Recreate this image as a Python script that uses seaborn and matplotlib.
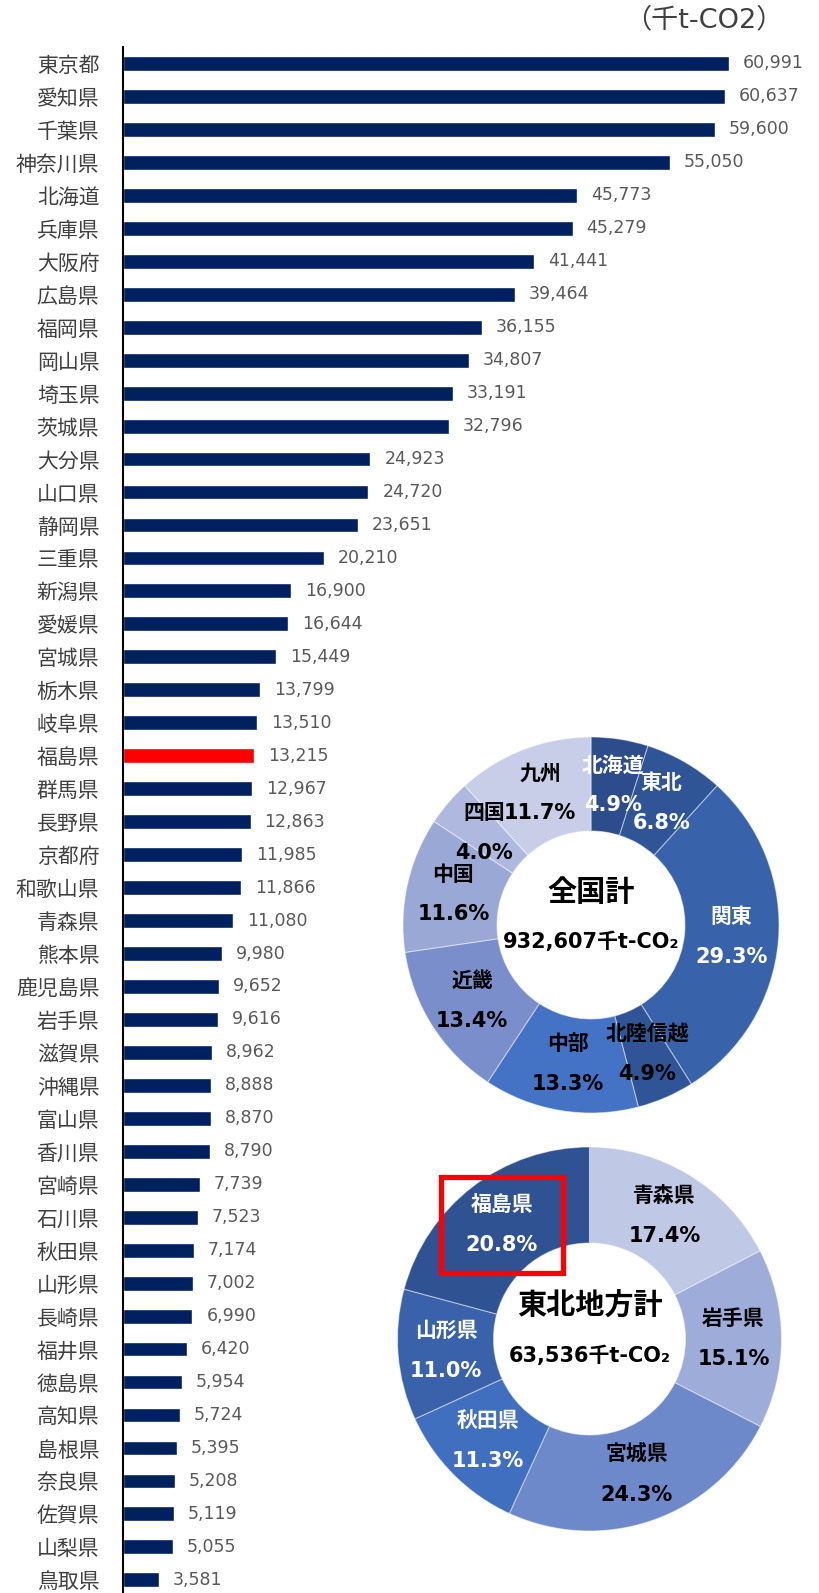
import numpy as np
import pandas as pd
import matplotlib
matplotlib.use("Agg")
import matplotlib.pyplot as plt
from matplotlib.patches import Rectangle
import seaborn as sns

# Prefectural CO2 emissions (thousand t-CO2)
prefectures = [
    "東京都", "愛知県", "千葉県", "神奈川県", "北海道", "兵庫県", "大阪府", "広島県",
    "福岡県", "岡山県", "埼玉県", "茨城県", "大分県", "山口県", "静岡県", "三重県",
    "新潟県", "愛媛県", "宮城県", "栃木県", "岐阜県", "福島県", "群馬県", "長野県",
    "京都府", "和歌山県", "青森県", "熊本県", "鹿児島県", "岩手県", "滋賀県", "沖縄県",
    "富山県", "香川県", "宮崎県", "石川県", "秋田県", "山形県", "長崎県", "福井県",
    "徳島県", "高知県", "島根県", "奈良県", "佐賀県", "山梨県", "鳥取県",
]
emissions = [
    60991, 60637, 59600, 55050, 45773, 45279, 41441, 39464,
    36155, 34807, 33191, 32796, 24923, 24720, 23651, 20210,
    16900, 16644, 15449, 13799, 13510, 13215, 12967, 12863,
    11985, 11866, 11080, 9980, 9652, 9616, 8962, 8888,
    8870, 8790, 7739, 7523, 7174, 7002, 6990, 6420,
    5954, 5724, 5395, 5208, 5119, 5055, 3581,
]
highlight = "福島県"

# National share by region
regions = ["北海道", "東北", "関東", "北陸信越", "中部", "近畿", "中国", "四国", "九州"]
region_share = [4.9, 6.8, 29.3, 4.9, 13.3, 13.4, 11.6, 4.0, 11.7]
region_colors = ["#2C4C8C", "#2F5597", "#3862A9", "#2F5597", "#4472C4",
                 "#7A8ECB", "#9AA8D6", "#AFB9DF", "#C8CEE8"]
region_text = ["white", "white", "white", "black", "black",
               "black", "black", "black", "black"]
national_title = "全国計"
national_total = "932,607千t-CO₂"

# Tohoku share by prefecture
tohoku = ["青森県", "岩手県", "宮城県", "秋田県", "山形県", "福島県"]
tohoku_share = [17.4, 15.1, 24.3, 11.3, 11.0, 20.8]
tohoku_colors = ["#BFC9E5", "#9DACD9", "#6E89CA", "#416FBF", "#3A62AB", "#2F5292"]
tohoku_text = ["black", "black", "black", "white", "white", "white"]
tohoku_title = "東北地方計"
tohoku_total = "63,536千t-CO₂"

unit_label = "（千t-CO2）"

sns.set_theme(style="white")
plt.rcParams["font.family"] = ["DejaVu Sans", "Noto Sans CJK JP"]

W, H, DPI = 819, 1593, 100
fig = plt.figure(figsize=(W / DPI, H / DPI), dpi=DPI)

# ---- horizontal bar chart ----
ax = fig.add_axes([123 / W, 0, 1 - 123 / W, (H - 47) / H])
df = pd.DataFrame({"pref": prefectures, "value": emissions})
palette = {p: ("#FF0000" if p == highlight else "#002060") for p in prefectures}
sns.barplot(data=df, x="value", y="pref", hue="pref", palette=palette,
            legend=False, orient="h", width=0.45, saturation=1, ax=ax)
for cont in ax.containers:
    ax.bar_label(cont, labels=[f"{v:,.0f}" for v in cont.datavalues],
                 padding=10, fontsize=12.5, color="#595959",
                 family=["DejaVu Sans"])
ax.set_xlim(0, 70100)
ax.set_ylim(46.4, -0.5)
ax.set_xlabel("")
ax.set_ylabel("")
ax.set_xticks([])
ax.tick_params(axis="y", length=0, pad=17)
for lbl in ax.get_yticklabels():
    lbl.set_fontfamily(["Noto Sans CJK JP"])
    lbl.set_fontsize(15)
    lbl.set_color("#404040")
for side in ["top", "right", "bottom"]:
    ax.spines[side].set_visible(False)
ax.spines["left"].set_color("black")
ax.spines["left"].set_linewidth(1.5)

fig.text(704 / W, 1 - 20 / H, unit_label, ha="center", va="center",
         fontsize=19.5, color="#404040",
         family=["DejaVu Sans", "Noto Sans CJK JP"])


def donut(cx, cy, R, labels, shares, colors, tcolors, title, total, box_label=None):
    dax = fig.add_axes([(cx - R) / W, (H - cy - R) / H, 2 * R / W, 2 * R / H])
    dax.pie(shares, colors=colors, startangle=90, counterclock=False,
            radius=1.0,
            wedgeprops=dict(width=0.5, edgecolor=(1, 1, 1, 0.45), linewidth=0.8))
    dax.set_xlim(-1, 1)
    dax.set_ylim(-1, 1)
    dax.set_aspect("equal")
    dax.axis("off")
    total_share = sum(shares)
    cum = 0.0
    for lab, s, tc in zip(labels, shares, tcolors):
        mid = (cum + s / 2) / total_share * 2 * np.pi
        cum += s
        r = 0.75
        x, y = r * np.sin(mid), r * np.cos(mid)
        dax.text(x, y + 0.105, lab, ha="center", va="center", fontsize=15,
                 fontweight="bold", color=tc)
        dax.text(x, y - 0.105, f"{s:.1f}%", ha="center", va="center",
                 fontsize=15, fontweight="bold", color=tc)
        if lab == box_label:
            dax.add_patch(Rectangle((x - 0.318, y - 0.25), 0.636, 0.5,
                                    fill=False, edgecolor="#FF0000",
                                    linewidth=3.8, zorder=5, clip_on=False))
    dax.text(0, 0.17, title, ha="center", va="center", fontsize=21,
             fontweight="bold", color="black")
    dax.text(0, -0.087, total, ha="center", va="center", fontsize=15,
             fontweight="bold", color="black")


donut(591, 925, 188, regions, region_share, region_colors, region_text,
      national_title, national_total)
donut(589.5, 1339, 192, tohoku, tohoku_share, tohoku_colors, tohoku_text,
      tohoku_title, tohoku_total, box_label=highlight)

fig.savefig("out.png", dpi=DPI)
